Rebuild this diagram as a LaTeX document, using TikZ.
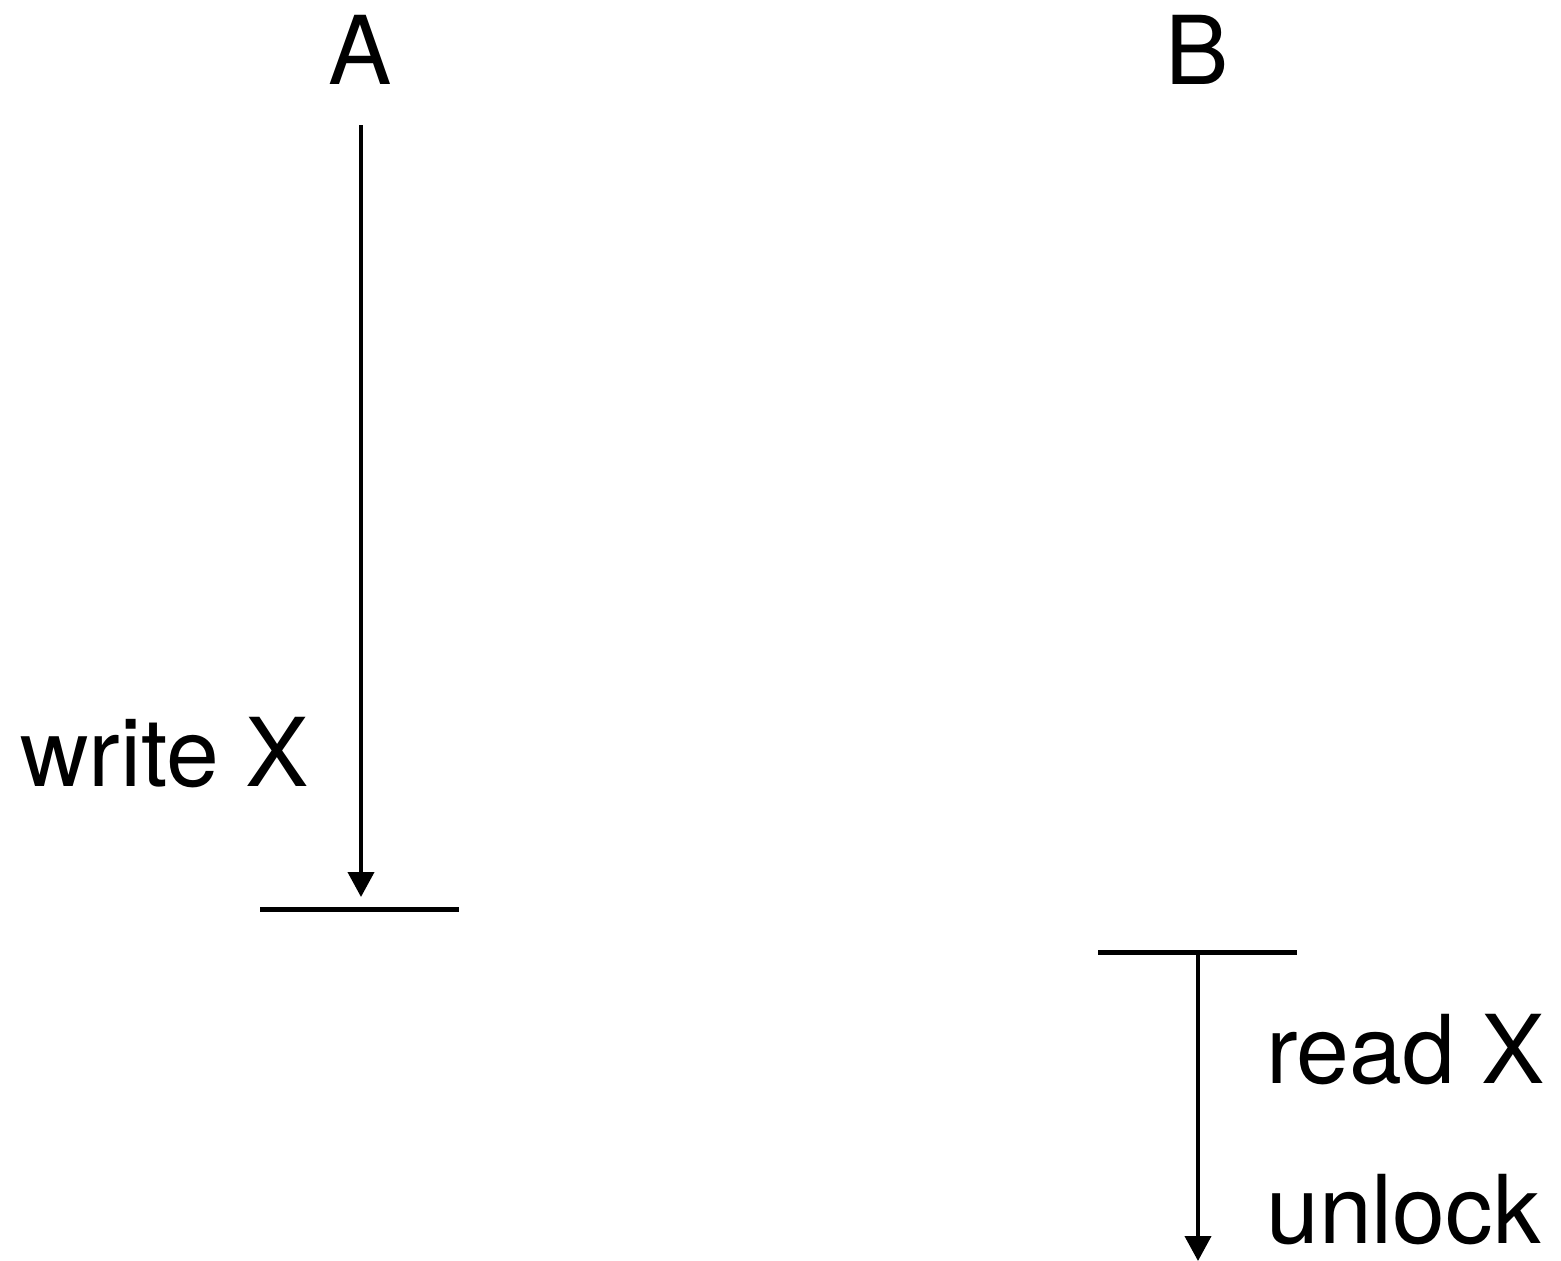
\documentclass[tikz,border=0pt]{standalone}
\usepackage{fontspec}
\setmainfont{TeX Gyre Heros}
\usetikzlibrary{arrows.meta}
\begin{document}
\begin{tikzpicture}[x=1pt,y=-1pt,
  lbl/.style={inner sep=0pt,font=\fontsize{95}{100}\selectfont},
  flow/.style={line width=4pt,-{Triangle[length=25pt,width=26pt]}},
  barline/.style={line width=5pt}]
\useasboundingbox (0,0) rectangle (1561,1261);
% headers
\node[lbl,anchor=base] (A) at (360,84) {A};
\node[lbl,anchor=base] (B) at (1197,84) {B};
% process A
\coordinate (aStart) at (361,125);
\coordinate (aEnd) at (361,897);
\coordinate (barAl) at (260,909);
\coordinate (barAr) at (459,909);
\draw[flow] (aStart) -- (aEnd);
\draw[barline] (barAl) -- (barAr);
\node[lbl,anchor=base west] (write) at (20,786) {write X};
% process B
\coordinate (barBl) at (1098,952);
\coordinate (barBr) at (1297,952);
\coordinate (bStart) at (1198,952);
\coordinate (bEnd) at (1198,1261);
\draw[barline] (barBl) -- (barBr);
\draw[flow] (bStart) -- (bEnd);
\node[lbl,anchor=base west] (read) at (1266,1083) {read X};
\node[lbl,anchor=base west] (unlock) at (1266,1243) {unlock};
\end{tikzpicture}
\end{document}
